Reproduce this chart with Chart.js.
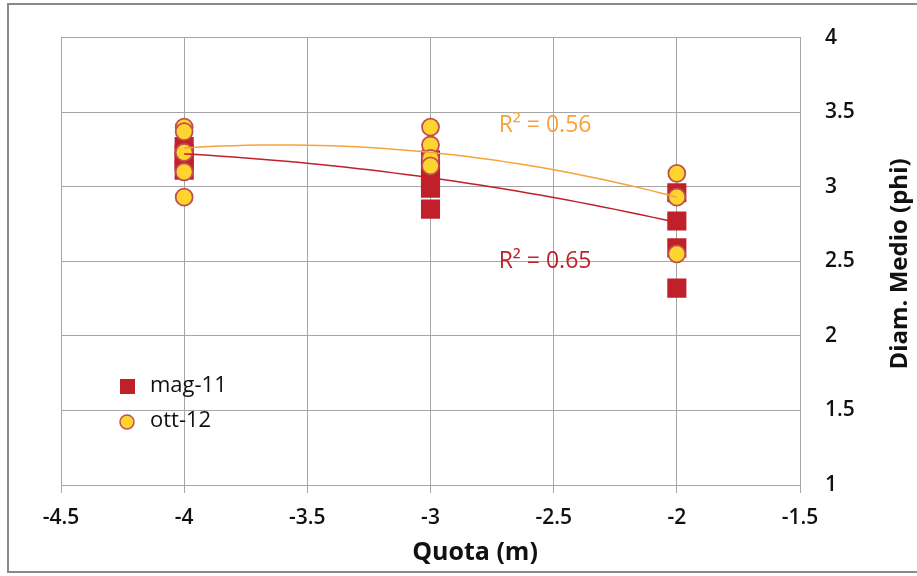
<!DOCTYPE html>
<html>
<head>
<meta charset="utf-8">
<script src="https://cdn.jsdelivr.net/npm/chart.js@4/dist/chart.umd.min.js"></script>
<style>
  html, body { margin: 0; padding: 0; background: #fff; }
  #wrap { width: 917px; height: 576px; }
</style>
</head>
<body>
<div id="wrap"><canvas id="chart" width="917" height="576"></canvas></div>
<script>
// quota values (x) and the diam. medio readings at each quota
const quote = [-4, -3, -2];
const mag11 = [
  [3.27, 3.22, 3.17, 3.11],
  [3.18, 3.10, 3.04, 2.99, 2.85],
  [2.96, 2.77, 2.59, 2.32]
];
const ott12 = [
  [3.40, 3.37, 3.23, 3.10, 2.93],
  [3.40, 3.28, 3.19, 3.14],
  [3.09, 2.93, 2.55]
];
// polynomial trendlines (a, b, c)
const magTrend = [-0.07, -0.65, 1.74];
const ottTrend = [-0.135, -0.975, 1.52];
const r2Mag = 'R² = 0.65';
const r2Ott = 'R² = 0.56';
const xTicks = [-4.5, -4, -3.5, -3, -2.5, -2, -1.5];
const yTicks = [1, 1.5, 2, 2.5, 3, 3.5, 4];

const RED = '#C0202A';
const YELLOW = '#FFD42E';
const CIRCLE_EDGE = '#C0504D';
const ORANGE = '#F7A23A';
const GRID = '#A6A6A6';
const FONT = "'Open Sans', sans-serif";

function toPoints(groups) {
  const pts = [];
  groups.forEach((vals, i) => vals.forEach(v => pts.push({ x: quote[i], y: v })));
  return pts;
}

function trendPoints(c) {
  const pts = [];
  for (let i = 0; i <= 40; i++) {
    const x = quote[0] + (quote[quote.length - 1] - quote[0]) * i / 40;
    pts.push({ x: x, y: c[0] * x * x + c[1] * x + c[2] });
  }
  return pts;
}

// border, axis titles, R² labels and the legend inside the plot
const extras = {
  id: 'extras',
  beforeDraw(chart) {
    const ctx = chart.ctx;
    ctx.save();
    ctx.fillStyle = '#fff';
    ctx.fillRect(0, 0, chart.width, chart.height);
    ctx.strokeStyle = '#8A8A8A';
    ctx.lineWidth = 2;
    ctx.strokeRect(8, 4, chart.width + 10, chart.height - 8);
    ctx.restore();
  },
  afterDraw(chart) {
    const ctx = chart.ctx;
    const xs = chart.scales.x, ys = chart.scales.y;
    ctx.save();
    ctx.textBaseline = 'middle';

    // axis titles
    ctx.fillStyle = '#111';
    ctx.font = 'bold 25px ' + FONT;
    ctx.textAlign = 'center';
    ctx.fillText('Quota (m)', 475, 553);
    ctx.font = 'bold 24px ' + FONT;
    ctx.save();
    ctx.translate(900, 264);
    ctx.rotate(-Math.PI / 2);
    ctx.fillText('Diam. Medio (phi)', 0, 0);
    ctx.restore();

    // R² labels
    ctx.font = '23px ' + FONT;
    ctx.fillStyle = ORANGE;
    ctx.fillText(r2Ott, xs.getPixelForValue(-2.535), ys.getPixelForValue(3.41));
    ctx.fillStyle = RED;
    ctx.fillText(r2Mag, xs.getPixelForValue(-2.535), ys.getPixelForValue(2.5));

    // legend
    ctx.textAlign = 'left';
    ctx.fillStyle = RED;
    ctx.fillRect(120, 379, 15, 15);
    ctx.beginPath();
    ctx.arc(127, 422, 7, 0, Math.PI * 2);
    ctx.fillStyle = YELLOW;
    ctx.fill();
    ctx.strokeStyle = CIRCLE_EDGE;
    ctx.lineWidth = 1.5;
    ctx.stroke();
    ctx.fillStyle = '#111';
    ctx.font = '22px ' + FONT;
    ctx.fillText(chart.data.datasets[0].label, 150, 386);
    ctx.fillText(chart.data.datasets[1].label, 150, 421);
    ctx.restore();
  }
};

new Chart(document.getElementById('chart'), {
  type: 'scatter',
  data: {
    datasets: [
      {
        label: 'mag-11',
        data: toPoints(mag11),
        pointStyle: 'rect',
        pointRadius: 13.5,
        backgroundColor: RED,
        borderColor: RED,
        borderWidth: 0,
        order: 3
      },
      {
        label: 'ott-12',
        data: toPoints(ott12),
        pointStyle: 'circle',
        pointRadius: 8.5,
        backgroundColor: YELLOW,
        borderColor: CIRCLE_EDGE,
        borderWidth: 1.8,
        order: 2
      },
      {
        label: 'trend mag-11',
        type: 'line',
        data: trendPoints(magTrend),
        borderColor: RED,
        borderWidth: 1.5,
        pointRadius: 0,
        fill: false,
        order: 1
      },
      {
        label: 'trend ott-12',
        type: 'line',
        data: trendPoints(ottTrend),
        borderColor: ORANGE,
        borderWidth: 1.5,
        pointRadius: 0,
        fill: false,
        order: 1
      }
    ]
  },
  options: {
    responsive: false,
    animation: false,
    layout: { padding: { left: 61, top: 37, right: 0, bottom: 0 } },
    plugins: {
      legend: { display: false },
      tooltip: { enabled: false }
    },
    scales: {
      x: {
        type: 'linear',
        position: 'bottom',
        min: -4.5,
        max: -1.5,
        afterBuildTicks: s => { s.ticks = xTicks.map(v => ({ value: v })); },
        afterFit: s => { s.height = 91; },
        grid: { color: GRID, lineWidth: 1, tickLength: 8, drawTicks: true },
        border: { color: GRID },
        ticks: {
          color: '#111',
          padding: 12,
          maxRotation: 0,
          callback: v => String(v),
          font: { family: FONT, size: 21, weight: '600' }
        }
      },
      y: {
        type: 'linear',
        position: 'right',
        min: 1,
        max: 4,
        afterBuildTicks: s => { s.ticks = yTicks.map(v => ({ value: v })); },
        afterFit: s => { s.width = 117; },
        grid: { color: GRID, lineWidth: 1, drawTicks: false },
        border: { color: GRID },
        ticks: {
          color: '#111',
          padding: 25,
          callback: v => String(v),
          font: { family: FONT, size: 21, weight: '600' }
        }
      }
    }
  },
  plugins: [extras]
});
</script>
</body>
</html>
